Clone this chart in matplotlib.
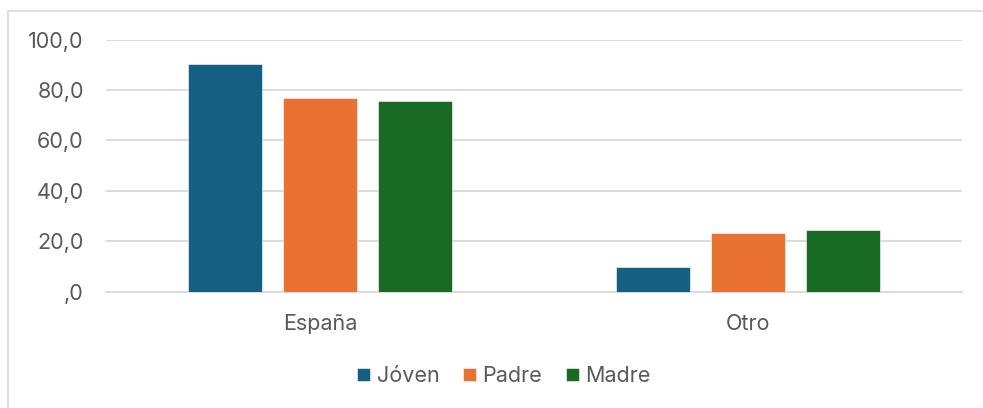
import matplotlib
matplotlib.use("Agg")
import matplotlib.pyplot as plt
import numpy as np
from matplotlib.patches import Rectangle

categories = ["España", "Otro"]
series_names = ["Jóven", "Padre", "Madre"]
joven = [90.3, 9.7]
padre = [76.6, 23.4]
madre = [75.7, 24.3]
colors = ["#156082", "#E97132", "#196B24"]
yticks = [0, 20, 40, 60, 80, 100]
ytick_labels = [",0", "20,0", "40,0", "60,0", "80,0", "100,0"]

plt.rcParams['font.family'] = ['Inter', 'DejaVu Sans']
text_color = "#595959"
fs = 15.5

W, H = 983, 408
fig = plt.figure(figsize=(W/100, H/100), dpi=100)
ax = fig.add_axes([106/W, 1-291.5/H, (962-106)/W, (291.5-39.5)/H])

x = np.arange(len(categories))
width = 0.173
pitch = 0.222
for i, (vals, name, c) in enumerate(zip([joven, padre, madre], series_names, colors)):
    ax.bar(x + (i-1)*pitch, vals, width, color=c, label=name, zorder=3,
           edgecolor="white", linewidth=0.4)

ax.set_xlim(-0.5, 1.5)
ax.set_ylim(0, 100)
ax.set_yticks(yticks)
ax.set_yticklabels(ytick_labels)
ax.set_xticks(x)
ax.set_xticklabels(categories)
ax.yaxis.grid(True, color="#d9d9d9", linewidth=1.3, zorder=0)
ax.set_axisbelow(True)
for s in ["top", "right", "left"]:
    ax.spines[s].set_visible(False)
ax.spines["bottom"].set_color("#d9d9d9")
ax.spines["bottom"].set_linewidth(1.3)
ax.tick_params(axis="y", length=0, pad=16, labelsize=fs, labelcolor=text_color)
ax.tick_params(axis="x", length=0, pad=16, labelsize=fs, labelcolor=text_color)

leg = fig.legend(loc="center", bbox_to_anchor=(504/W, 1-376/H), ncol=3, frameon=False,
                 fontsize=fs, handlelength=0.6, handleheight=0.6, handletextpad=0.3,
                 columnspacing=1.1, labelcolor=text_color)

fig.patches.append(Rectangle((8/W, -0.1), 1.2, 1-11/H+0.1, transform=fig.transFigure,
                             fill=False, edgecolor="#d9d9d9", linewidth=1.2))

fig.savefig("out.png", dpi=100, facecolor="white")
